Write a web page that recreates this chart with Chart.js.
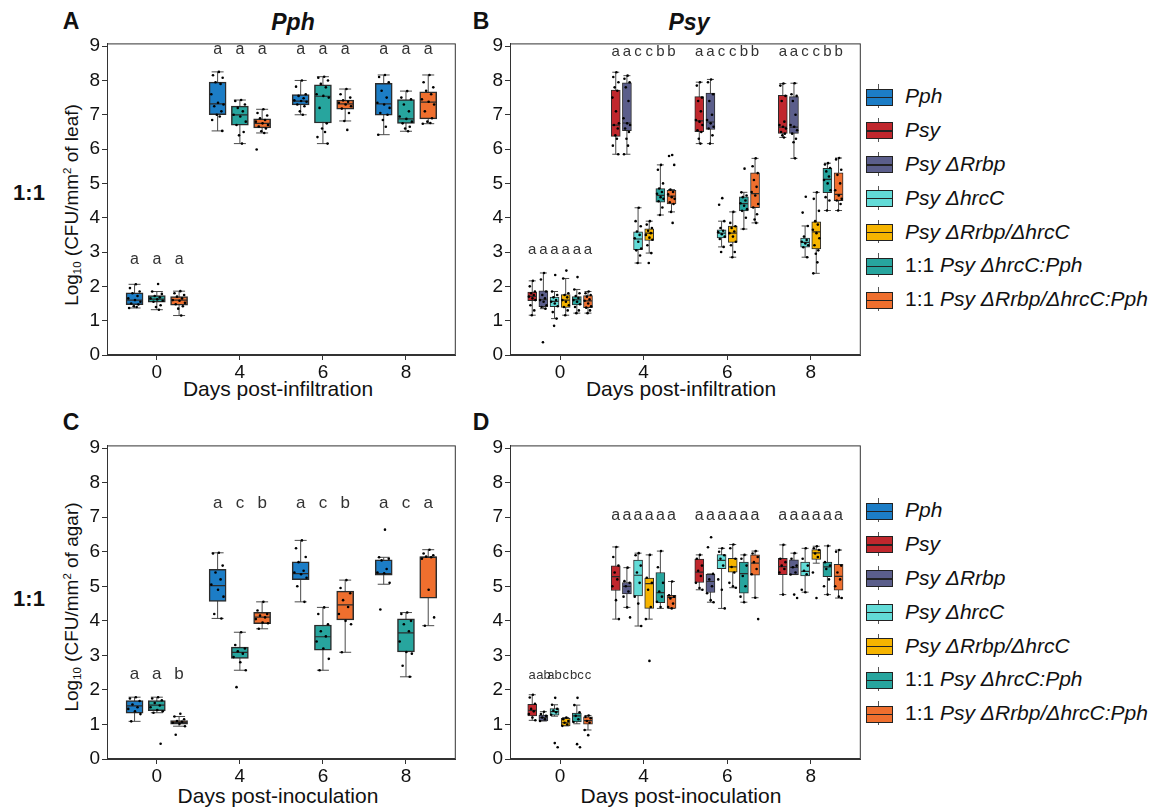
<!DOCTYPE html>
<html lang="en">
<head>
<meta charset="utf-8" />
<title>Bacterial growth, 1:1 co-infiltration</title>
<style>
  * { margin: 0; padding: 0; font-family: "Liberation Sans", Arial, sans-serif; }
  body { width: 1158px; height: 809px; background: #fff; position: relative; overflow: hidden; color: #111; }
  canvas { position: absolute; }
  .t { position: absolute; white-space: nowrap; transform: translate(-50%, -50%); }
  .tag { font-weight: bold; font-size: 23px; }
  .ttl { font-weight: bold; font-style: italic; font-size: 23px; }
  .xt { font-size: 21px; }
  .yt { font-size: 19px; transform: translate(-50%, -50%) rotate(-90deg); }
  .yt sub { font-size: 0.6em; vertical-align: -0.3em; }
  .yt sup { font-size: 0.6em; vertical-align: 0.6em; }
  .legend { position: absolute; left: 866px; }
  .item { height: 33.9px; display: flex; align-items: center; font-size: 21px; white-space: nowrap; }
  .key { position: relative; width: 27px; height: 33.9px; margin-right: 12px; flex: none; }
  .key::before { content: ""; position: absolute; left: 12px; top: 5px; bottom: 5px; width: 1px; background: #555; }
  .key b { position: absolute; left: 0; top: 9.5px; width: 25px; height: 15px; border: 1px solid #222; }
  .key b::after { content: ""; position: absolute; left: 0; right: 0; top: 7px; height: 1.3px; background: #222; }
</style>
</head>
<body>
  <div class="t tag" style="left:71px;top:21px">A</div>
  <div class="t tag" style="left:481px;top:21px">B</div>
  <div class="t tag" style="left:71px;top:422px">C</div>
  <div class="t tag" style="left:481px;top:422px">D</div>
  <div class="t ttl" style="left:293px;top:22px">Pph</div>
  <div class="t ttl" style="left:689px;top:22px">Psy</div>
  <div class="t tag" style="left:29px;top:193px;font-size:22px">1:1</div>
  <div class="t tag" style="left:29px;top:599px;font-size:22px">1:1</div>
  <div class="t yt" style="left:72px;top:205px">Log<sub>10</sub> (CFU/mm<sup>2</sup> of leaf)</div>
  <div class="t yt" style="left:72px;top:607px">Log<sub>10</sub> (CFU/mm<sup>2</sup> of agar)</div>
  <div class="t xt" style="left:278px;top:389px">Days post-infiltration</div>
  <div class="t xt" style="left:681px;top:389px">Days post-infiltration</div>
  <div class="t xt" style="left:278px;top:796px">Days post-inoculation</div>
  <div class="t xt" style="left:681px;top:796px">Days post-inoculation</div>

  <canvas id="chartA" width="410" height="350" style="left:55px;top:30px"></canvas>
  <canvas id="chartB" width="400" height="350" style="left:466px;top:30px"></canvas>
  <canvas id="chartC" width="410" height="352" style="left:55px;top:432px"></canvas>
  <canvas id="chartD" width="400" height="352" style="left:466px;top:432px"></canvas>

  <div class="legend" id="legTop" style="top:79px"></div>
  <div class="legend" id="legBot" style="top:493px"></div>

  <script src="https://cdn.jsdelivr.net/npm/chart.js@4.4.0/dist/chart.umd.min.js"></script>
  <script>
    // categories
    const days = ["0", "4", "6", "8"];
    const yTicks = [0, 1, 2, 3, 4, 5, 6, 7, 8, 9];
    const strains = ["Pph", "Psy", "Psy ΔRrbp", "Psy ΔhrcC", "Psy ΔRrbp/ΔhrcC", "1:1 Psy ΔhrcC:Pph", "1:1 Psy ΔRrbp/ΔhrcC:Pph"];
    const legendHtml = ["<i>Pph</i>", "<i>Psy</i>", "<i>Psy ΔRrbp</i>", "<i>Psy ΔhrcC</i>", "<i>Psy ΔRrbp/ΔhrcC</i>", "1:1 <i>Psy ΔhrcC:Pph</i>", "1:1 <i>Psy ΔRrbp/ΔhrcC:Pph</i>"];
    const colors = ["#1c7dc6", "#c0272d", "#5b5e8b", "#62dbd7", "#f6b400", "#27a59e", "#ef6f2e"];

    // box stats per day: [lower whisker, q1, median, q3, upper whisker]
    // panel A (leaf, Pph set)
    const aPph  = [[1.37,1.47,1.60,1.81,2.06],[6.53,7.00,7.32,7.95,8.25],[7.00,7.29,7.40,7.59,8.00],[6.42,6.99,7.32,7.92,8.16]];
    const aMix1 = [[1.32,1.54,1.63,1.73,1.85],[6.16,6.70,7.00,7.25,7.43],[6.16,6.76,7.54,7.87,8.11],[6.52,6.75,6.88,7.44,7.69]];
    const aMix2 = [[1.15,1.45,1.60,1.70,1.86],[6.47,6.62,6.75,6.88,7.16],[6.82,7.16,7.32,7.43,7.75],[6.74,6.88,7.37,7.67,8.16]];
    // panel B (leaf, Psy set)
    const bPsy    = [[1.16,1.58,1.71,1.83,2.16],[5.85,6.37,6.70,7.72,8.24],[6.16,6.51,6.82,7.53,7.95],[6.34,6.46,6.64,7.57,7.91]];
    const bRrbp   = [[1.35,1.41,1.61,1.87,2.39],[5.85,6.54,6.76,7.93,8.14],[6.16,6.57,6.79,7.63,8.03],[5.73,6.46,6.64,7.53,7.92]];
    const bHrcC   = [[1.06,1.41,1.56,1.69,1.85],[2.68,3.07,3.38,3.59,4.29],[3.15,3.41,3.55,3.65,3.90],[2.85,3.14,3.28,3.41,3.76]];
    const bDouble = [[1.16,1.39,1.60,1.76,2.23],[2.97,3.34,3.55,3.68,3.90],[2.85,3.28,3.55,3.76,4.17],[2.38,3.09,3.59,3.88,4.74]];
    const bMix1   = [[1.22,1.46,1.61,1.70,1.91],[4.08,4.45,4.65,4.85,5.54],[3.67,4.20,4.41,4.61,4.74],[4.21,4.73,5.12,5.44,5.59]];
    const bMix2   = [[1.22,1.38,1.58,1.73,1.85],[4.17,4.40,4.63,4.80,4.82],[3.85,4.29,4.70,5.31,5.73],[4.21,4.50,4.68,5.31,5.74]];
    // panel C (agar, Pph set)
    const cPph  = [[1.09,1.33,1.54,1.69,1.79],[4.07,4.56,5.02,5.49,5.97],[4.55,5.19,5.37,5.71,6.33],[5.06,5.32,5.37,5.77,5.84]];
    const cMix1 = [[1.34,1.40,1.56,1.69,1.79],[2.57,2.91,3.09,3.24,3.67],[2.57,3.15,3.54,3.88,4.39],[2.38,3.10,3.65,4.06,4.24]];
    const cMix2 = [[0.95,1.01,1.06,1.11,1.23],[3.77,3.92,4.11,4.25,4.55],[3.09,4.03,4.46,4.86,5.18],[3.86,4.66,5.84,5.86,6.06]];
    // panel D (agar, Psy set)
    const dPsy    = [[1.12,1.25,1.41,1.58,1.86],[4.05,4.88,5.28,5.59,6.14],[4.90,5.11,5.41,5.79,5.91],[4.76,5.34,5.57,5.81,6.20]];
    const dRrbp   = [[1.10,1.10,1.20,1.27,1.37],[4.39,4.78,5.00,5.11,5.54],[4.54,4.82,5.14,5.35,5.36],[5.34,5.34,5.55,5.77,5.96]];
    const dHrcC   = [[1.24,1.27,1.37,1.46,1.57],[3.85,4.72,5.32,5.76,5.96],[4.36,5.51,5.75,5.92,6.10],[4.83,5.30,5.43,5.70,6.10]];
    const dDouble = [[0.96,0.96,1.05,1.18,1.20],[4.05,4.36,5.08,5.24,5.91],[4.96,5.41,5.56,5.81,6.21],[5.67,5.78,5.97,6.06,6.16]];
    const dMix1   = [[1.02,1.07,1.25,1.33,1.56],[4.36,4.53,4.82,5.40,6.02],[4.54,4.80,5.37,5.70,5.91],[4.76,5.28,5.56,5.70,6.17]];
    const dMix2   = [[0.84,1.01,1.11,1.22,1.26],[4.36,4.36,4.68,4.74,5.14],[4.67,5.32,5.67,5.91,6.02],[4.66,4.89,5.29,5.64,6.05]];

    // individual leaf / plate values per day
    const aPphPts = [
      [2.06,1.95,1.85,1.80,1.72,1.65,1.60,1.55,1.50,1.47,1.42,1.40,1.37],
      [8.25,8.15,8.08,7.95,7.90,7.60,7.35,7.30,7.25,7.10,7.00,6.95,6.85,6.53],
      [8.00,7.82,7.60,7.55,7.48,7.42,7.40,7.38,7.30,7.25,7.10,7.00],
      [8.16,8.10,7.95,7.70,7.50,7.35,7.30,7.20,7.05,7.00,6.85,6.65,6.42]];
    const aMix1Pts = [
      [2.07,1.85,1.78,1.72,1.68,1.65,1.62,1.58,1.55,1.45,1.40,1.32],
      [7.43,7.40,7.30,7.20,7.10,7.00,6.95,6.80,6.70,6.50,6.40,6.16],
      [8.11,8.08,8.00,7.90,7.80,7.60,7.55,7.50,7.20,6.75,6.60,6.50,6.35,6.16],
      [7.69,7.50,7.45,7.30,7.10,6.95,6.88,6.80,6.75,6.65,6.60,6.52]];
    const aMix2Pts = [
      [1.86,1.80,1.75,1.70,1.65,1.60,1.58,1.52,1.48,1.42,1.35,1.15],
      [7.16,7.05,6.98,6.90,6.85,6.80,6.75,6.70,6.66,6.60,6.52,6.47,5.99],
      [7.75,7.60,7.50,7.42,7.38,7.35,7.30,7.25,7.18,7.05,6.82,6.56],
      [8.16,7.95,7.80,7.70,7.60,7.45,7.38,7.30,7.10,6.90,6.80,6.76,6.74]];

    const bPsyPts = [
      [2.16,2.00,1.85,1.80,1.75,1.70,1.65,1.60,1.45,1.30,1.16],
      [8.24,8.10,7.95,7.80,7.70,7.50,7.10,6.75,6.70,6.60,6.40,6.30,6.10,5.85],
      [7.95,7.85,7.50,7.40,7.10,6.85,6.80,6.70,6.55,6.50,6.30,6.16],
      [7.91,7.85,7.55,7.40,6.80,6.70,6.65,6.60,6.50,6.45,6.40,6.34]];
    const bRrbpPts = [
      [2.39,2.20,1.85,1.75,1.65,1.60,1.55,1.45,1.40,1.35,0.37],
      [8.14,8.05,7.95,7.80,7.40,6.90,6.75,6.70,6.60,6.50,6.30,6.10,5.85],
      [8.03,7.95,7.60,7.40,7.00,6.85,6.75,6.65,6.60,6.40,6.16],
      [7.92,7.60,7.55,7.40,7.00,6.70,6.65,6.55,6.45,6.30,6.20,5.73]];
    const bHrcCPts = [
      [2.33,1.85,1.75,1.68,1.60,1.55,1.50,1.42,1.25,1.06,0.85],
      [4.29,3.90,3.75,3.60,3.50,3.40,3.30,3.10,3.05,2.90,2.68],
      [4.57,4.38,3.90,3.70,3.62,3.58,3.52,3.45,3.38,3.15,3.00],
      [4.61,4.15,3.76,3.45,3.35,3.30,3.25,3.20,3.14,2.85]];
    const bDoublePts = [
      [2.46,2.23,1.80,1.75,1.68,1.60,1.55,1.45,1.40,1.30,1.16],
      [3.90,3.80,3.70,3.62,3.55,3.50,3.42,3.36,3.20,2.97,2.68],
      [4.17,3.85,3.75,3.70,3.60,3.55,3.45,3.30,3.20,3.00,2.85],
      [4.74,4.55,4.20,3.90,3.80,3.65,3.55,3.40,3.20,3.05,2.95,2.70,2.38]];
    const bMix1Pts = [
      [2.27,1.91,1.80,1.72,1.66,1.60,1.55,1.48,1.40,1.30,1.22],
      [5.54,5.40,5.00,4.85,4.75,4.70,4.60,4.55,4.48,4.30,4.08],
      [5.43,4.74,4.65,4.60,4.50,4.42,4.35,4.25,4.20,4.00,3.67],
      [5.59,5.55,5.45,5.35,5.20,5.10,5.00,4.80,4.60,4.50,4.21]];
    const bMix2Pts = [
      [1.85,1.80,1.75,1.70,1.62,1.58,1.50,1.42,1.38,1.30,1.22],
      [5.83,5.80,5.54,4.82,4.75,4.68,4.60,4.55,4.45,4.40,4.17,3.85],
      [5.73,5.50,5.30,5.10,4.90,4.75,4.65,4.40,4.30,4.10,3.95,3.85],
      [5.74,5.70,5.40,5.25,5.00,4.80,4.65,4.55,4.50,4.40,4.21]];

    const cPphPts = [
      [1.79,1.75,1.68,1.58,1.50,1.45,1.38,1.30,1.09],
      [5.97,5.95,5.60,5.40,5.20,5.05,4.90,4.70,4.20,4.07],
      [6.33,6.10,5.85,5.70,5.45,5.40,5.35,5.25,5.00,4.55],
      [6.64,5.84,5.80,5.75,5.50,5.40,5.38,5.10,4.33]];
    const cMix1Pts = [
      [1.79,1.75,1.70,1.62,1.55,1.50,1.42,1.38,1.34,0.44],
      [3.67,3.30,3.20,3.12,3.05,2.95,2.80,2.57,2.08],
      [4.39,4.20,3.90,3.70,3.55,3.40,3.20,2.90,2.57],
      [4.24,4.20,4.00,3.90,3.70,3.40,3.10,3.05,2.70,2.38]];
    const cMix2Pts = [
      [1.31,1.23,1.15,1.10,1.08,1.05,1.02,0.95,0.70],
      [4.55,4.30,4.20,4.15,4.10,4.05,3.95,3.93,3.77],
      [5.18,4.95,4.80,4.60,4.40,4.20,4.00,3.90,3.09],
      [6.06,5.95,5.90,5.86,5.84,5.80,4.90,4.10,3.86]];

    const dPsyPts = [
      [1.86,1.78,1.60,1.45,1.38,1.30,1.20,1.12],
      [6.14,5.85,5.60,5.40,5.20,5.00,4.60,4.05],
      [5.91,5.80,5.60,5.45,5.30,5.10,4.95,4.90],
      [6.20,5.80,5.70,5.60,5.50,5.40,4.76]];
    const dRrbpPts = [
      [1.37,1.30,1.25,1.20,1.15,1.10],
      [5.54,5.15,5.10,5.00,4.85,4.70,4.39,4.10],
      [6.42,6.13,5.36,5.20,5.00,4.80,4.60,4.54],
      [5.96,5.80,5.60,5.55,5.40,5.34,4.76,4.66]];
    const dHrcCPts = [
      [1.77,1.57,1.45,1.40,1.35,1.28,0.46,0.34],
      [5.96,5.90,5.60,5.40,5.10,4.70,4.50,3.85],
      [6.10,6.00,5.90,5.80,5.60,5.20,4.90,4.36],
      [6.10,5.80,5.60,5.45,5.35,4.90,4.83]];
    const dDoublePts = [
      [1.20,1.15,1.10,1.05,1.00,0.96],
      [5.91,5.25,5.10,4.90,4.40,4.05,2.84],
      [6.21,6.10,5.80,5.56,5.40,5.10,5.00,4.96],
      [6.16,6.10,6.05,5.95,5.85,5.40,4.66]];
    const dMix1Pts = [
      [1.77,1.56,1.35,1.25,1.15,1.07,0.43,0.34],
      [6.02,5.55,5.10,4.85,4.70,4.55,4.40],
      [5.91,5.80,5.60,5.30,5.00,4.70,4.54],
      [6.17,5.70,5.60,5.50,5.20,5.00,4.76]];
    const dMix2Pts = [
      [1.26,1.22,1.18,1.10,1.05,0.84,0.69],
      [5.14,4.74,4.70,4.65,4.50,4.40,4.36],
      [6.02,5.95,5.85,5.70,5.50,5.35,4.67,4.05],
      [6.05,6.00,5.60,5.40,5.20,5.00,4.70,4.66]];

    // significance letters per day, one per box
    const lettersA = [["a","a","a"], ["a","a","a"], ["a","a","a"], ["a","a","a"]];
    const lettersB = [["a","a","a","a","a","a"], ["a","a","c","c","b","b"], ["a","a","c","c","b","b"], ["a","a","c","c","b","b"]];
    const lettersC = [["a","a","b"], ["a","c","b"], ["a","c","b"], ["a","c","a"]];
    const lettersD = [["a","ab","ab","c","bc","c"], ["a","a","a","a","a","a"], ["a","a","a","a","a","a"], ["a","a","a","a","a","a"]];

    // ---- drawing helpers ----
    const FONT = '"Liberation Sans", Arial, sans-serif';
    Chart.defaults.font.family = FONT;
    const jit = [0.15, -0.55, 0.6, -0.25, 0.35, -0.75, 0.05, 0.7, -0.4, 0.45, -0.1, 0.25, -0.65, 0.55, -0.3, 0.1];

    function buildDatasets(boxes, pts, idx, sp, w, cap, bw) {
      const n = idx.length;
      const half = (w / 84) / 2;
      const ds = [];
      idx.forEach((s, k) => {
        const off = (k - (n - 1) / 2) * sp;
        const box = boxes[k];
        ds.push({
          type: "line", label: strains[s] + " whisker",
          data: box.flatMap((b, i) => [{ x: i + off, y: b[0] }, { x: i + off, y: b[4] }, { x: i + off, y: null }]),
          borderColor: "#4a4a4a", borderWidth: 1, pointRadius: 0, spanGaps: false, order: 4,
        });
        ds.push({
          type: "scatter", label: strains[s] + " caps",
          data: box.flatMap((b, i) => [{ x: i + off, y: b[0] }, { x: i + off, y: b[4] }]),
          pointStyle: "line", pointRadius: cap, pointBorderColor: "#4a4a4a", pointBorderWidth: 1, order: 3,
        });
        ds.push({
          type: "bar", label: strains[s],
          data: box.map((b, i) => ({ x: i + off, y: [b[1], b[3]] })),
          backgroundColor: colors[s], borderColor: "#2b2b2b", borderWidth: bw,
          borderSkipped: false, barThickness: w, grouped: false, order: 2,
        });
        ds.push({
          type: "scatter", label: strains[s] + " median",
          data: box.map((b, i) => ({ x: i + off, y: b[2] })),
          pointStyle: "line", pointRadius: w / 2 - 0.5, pointBorderColor: "#2b2b2b", pointBorderWidth: 1.2, order: 1,
        });
        ds.push({
          type: "scatter", label: strains[s] + " points",
          data: pts[k].flatMap((arr, i) => arr.map((v, j) => ({ x: i + off + jit[j % jit.length] * half, y: v }))),
          pointRadius: 1.3, pointBackgroundColor: "#000", pointBorderWidth: 0, order: 0,
        });
      });
      return ds;
    }

    function makePanel(id, boxes, pts, idx, letters, letterY, cfg) {
      const n = idx.length;
      const sp = cfg.sp;
      const frame = {
        id: "frame",
        afterDatasetsDraw(chart) {
          const { ctx, chartArea: a } = chart;
          ctx.save();
          ctx.strokeStyle = "#333";
          ctx.lineWidth = 1;
          ctx.strokeRect(a.left + 0.5, a.top + 0.5, a.right - a.left - 1, a.bottom - a.top - 1);
          ctx.restore();
        },
      };
      const letterPlugin = {
        id: "letters",
        afterDatasetsDraw(chart) {
          const { ctx, scales } = chart;
          ctx.save();
          ctx.fillStyle = "#333";
          ctx.textAlign = "center";
          ctx.textBaseline = "middle";
          letters.forEach((row, i) => {
            ctx.font = (i === 0 && cfg.firstSize ? cfg.firstSize : cfg.letterSize) + "px " + FONT;
            row.forEach((l, k) => {
              const off = (k - (n - 1) / 2) * sp;
              ctx.fillText(l, scales.x.getPixelForValue(i + off), scales.y.getPixelForValue(letterY[i]));
            });
          });
          ctx.restore();
        },
      };
      return new Chart(document.getElementById(id), {
        type: "bar",
        data: { datasets: buildDatasets(boxes, pts, idx, sp, cfg.w, cfg.cap, cfg.bw) },
        options: {
          responsive: false,
          animation: false,
          events: [],
          layout: { padding: { left: 0, right: cfg.pr, top: cfg.pt, bottom: 0 } },
          plugins: { legend: { display: false }, tooltip: { enabled: false } },
          scales: {
            x: {
              type: "linear", min: -0.6, max: 3.6, offset: false,
              afterBuildTicks: (s) => { s.ticks = days.map((d, i) => ({ value: i })); },
              afterFit: (s) => { s.height = cfg.xh; },
              ticks: { callback: (v) => days[v], font: { size: 19 }, color: "#111", padding: 1, maxRotation: 0, autoSkip: false },
              grid: { drawOnChartArea: false, drawTicks: true, tickLength: 5, color: "#333", offset: false },
              border: { display: true, color: "#333", width: 1 },
            },
            y: {
              type: "linear", min: 0, max: 9.08,
              afterBuildTicks: (s) => { s.ticks = yTicks.map((v) => ({ value: v })); },
              afterFit: (s) => { s.width = cfg.yw; },
              ticks: { font: { size: 19 }, color: "#111", padding: 2 },
              grid: { drawOnChartArea: false, drawTicks: true, tickLength: 5, color: "#333" },
              border: { display: true, color: "#333", width: 1 },
            },
          },
        },
        plugins: [frame, letterPlugin],
      });
    }

    makePanel("chartA", [aPph, aMix1, aMix2], [aPphPts, aMix1Pts, aMix2Pts], [0, 5, 6],
      lettersA, [2.78, 8.9, 8.9, 8.9],
      { sp: 0.268, w: 17, cap: 6, bw: 1.5, yw: 52, pr: 6, pt: 10, xh: 25, letterSize: 16 });
    makePanel("chartB", [bPsy, bRrbp, bHrcC, bDouble, bMix1, bMix2],
      [bPsyPts, bRrbpPts, bHrcCPts, bDoublePts, bMix1Pts, bMix2Pts], [1, 2, 3, 4, 5, 6],
      lettersB, [3.06, 8.84, 8.84, 8.84],
      { sp: 0.1335, w: 9, cap: 3.5, bw: 1, yw: 44, pr: 5, pt: 10, xh: 25, letterSize: 15 });
    makePanel("chartC", [cPph, cMix1, cMix2], [cPphPts, cMix1Pts, cMix2Pts], [0, 5, 6],
      lettersC, [2.45, 7.4, 7.4, 7.4],
      { sp: 0.268, w: 17, cap: 6, bw: 1.5, yw: 52, pr: 6, pt: 11, xh: 25, letterSize: 17 });
    makePanel("chartD", [dPsy, dRrbp, dHrcC, dDouble, dMix1, dMix2],
      [dPsyPts, dRrbpPts, dHrcCPts, dDoublePts, dMix1Pts, dMix2Pts], [1, 2, 3, 4, 5, 6],
      lettersD, [2.43, 7.06, 7.06, 7.06],
      { sp: 0.1335, w: 9, cap: 3.5, bw: 1, yw: 44, pr: 5, pt: 11, xh: 25, letterSize: 16, firstSize: 13 });

    // legends (same key for both rows)
    ["legTop", "legBot"].forEach((id) => {
      document.getElementById(id).innerHTML = strains.map((s, i) =>
        '<div class="item"><span class="key"><b style="background:' + colors[i] + '"></b></span><span>' + legendHtml[i] + "</span></div>"
      ).join("");
    });
  </script>
</body>
</html>
